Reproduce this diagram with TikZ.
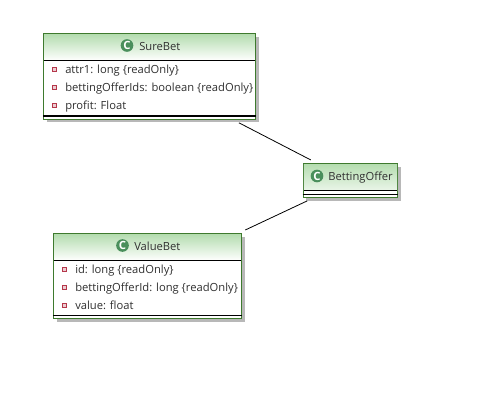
\documentclass[tikz,border=0pt]{standalone}
\usepackage{fontspec}
\setmainfont{Open Sans}
\usetikzlibrary{shadows}
\definecolor{umlgreen}{HTML}{3E7A2E}
\definecolor{headgreen}{HTML}{B5DDB0}
\definecolor{icongreen}{HTML}{4A8F5C}
\definecolor{bulletred}{HTML}{B5364A}
\definecolor{textgray}{HTML}{303030}
\begin{document}
\begin{tikzpicture}[x=0.75pt,y=-0.75pt,font=\fontsize{8.4}{10}\selectfont,text=textgray]
    \tikzset{classbox/.style={draw=umlgreen, fill=white, line width=0.8pt, inner sep=0pt, drop shadow={shadow xshift=2.4pt, shadow yshift=-2.4pt, fill=black!28, opacity=1}},
        headbox/.style={top color=headgreen, bottom color=white, inner sep=0pt},
        attr/.style={anchor=base west, inner sep=0pt},
        bullet/.style={draw=bulletred, fill=bulletred!25, line width=0.6pt, minimum size=3pt, inner sep=0pt},
        icon/.style={circle, fill=icongreen, text=white, minimum size=9.5pt, inner sep=0pt, font=\fontsize{8.5}{8.5}\selectfont\bfseries},
        assoc/.style={black, line width=0.6pt, shorten <=5pt, shorten >=5pt}}
    \useasboundingbox (0,0) rectangle (481,412);
    \node[classbox, minimum width=159pt, minimum height=64pt] (sure) at (149.5,76.5) {};
    \node[classbox, minimum width=71pt, minimum height=25.5pt] (offer) at (350.5,180.5) {};
    \node[classbox, minimum width=141pt, minimum height=64pt] (value) at (147.5,276) {};
    \draw[assoc] (sure) -- (offer);
    \draw[assoc] (value) -- (offer);
    % headers
    \node[headbox, minimum width=158pt, minimum height=19.5pt] (surehead) at (149.5,47.5) {};
    \node[headbox, bottom color=headgreen!30, minimum width=70pt, minimum height=19.5pt] (offerhead) at (350.5,177) {};
    \node[headbox, minimum width=140pt, minimum height=19.5pt] (valuehead) at (147.5,247.5) {};
    \draw[line width=0.8pt] (surehead.south west) -- (surehead.south east);
    \draw[line width=0.8pt] (valuehead.south west) -- (valuehead.south east);
    \draw[line width=0.8pt] (offerhead.south west) -- (offerhead.south east);
    \draw[line width=0.8pt] ([yshift=2.6pt]offer.south west) -- ([yshift=2.6pt]offer.south east);
    \draw[line width=0.8pt] ([yshift=2.8pt]sure.south west) -- ([yshift=2.8pt]sure.south east);
    \draw[line width=0.8pt] ([yshift=2.8pt]value.south west) -- ([yshift=2.8pt]value.south east);
    % titles
    \node[icon] (sureicon) at (127,45.5) {C};
    \node[attr] (suretitle) at (139,50) {SureBet};
    \node[icon] (offericon) at (317,176) {C};
    \node[attr] (offertitle) at (328,180.5) {BettingOffer};
    \node[icon] (valueicon) at (122.5,245.5) {C};
    \node[attr] (valuetitle) at (134,250) {ValueBet};
    % attributes
    \foreach \name/\ypos/\label in {a/69/attr1: long \{readOnly\}, b/87/bettingOfferIds: boolean \{readOnly\}, c/105/profit: Float} {
        \node[bullet] (sure\name) at (54.5,\ypos) {};
        \node[attr] (suretext\name) at (65,\ypos+4) {\label};
    }
    \foreach \name/\ypos/\label in {a/269/id: long \{readOnly\}, b/287/bettingOfferId: long \{readOnly\}, c/305/value: float} {
        \node[bullet] (value\name) at (64.5,\ypos) {};
        \node[attr] (valuetext\name) at (75,\ypos+4) {\label};
    }
\end{tikzpicture}
\end{document}
